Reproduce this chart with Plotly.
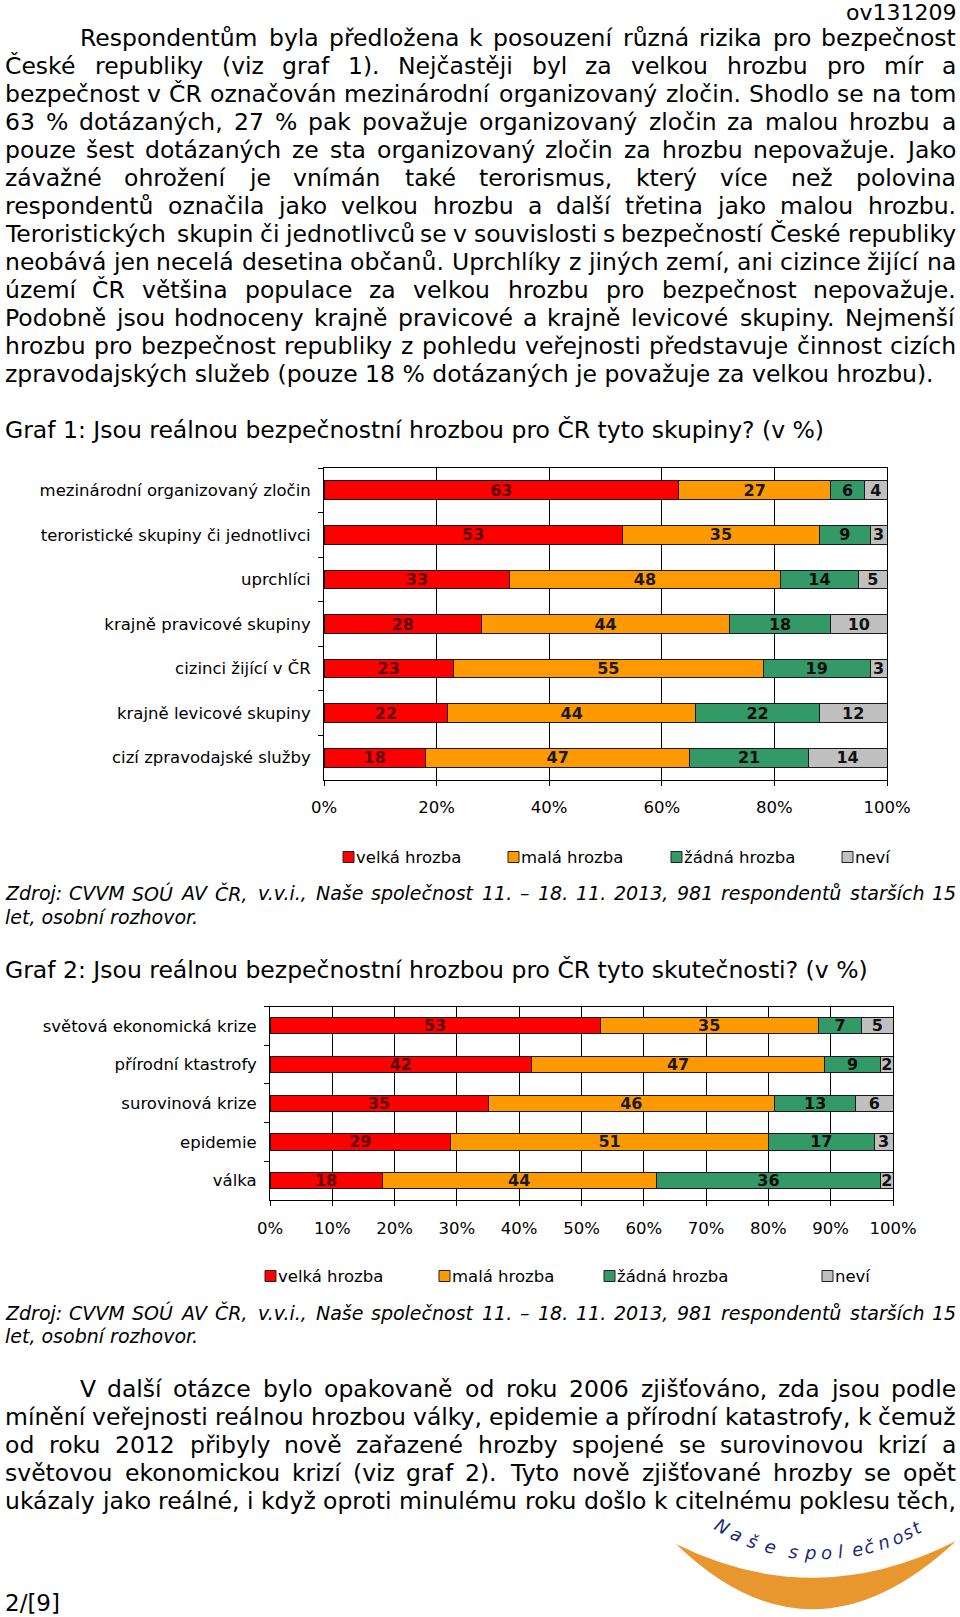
import math
import unicodedata
import plotly.graph_objects as go

W, H = 960, 1617

# ---------------- data ----------------
g1_categories = ["mezinárodní organizovaný zločin", "teroristické skupiny či jednotlivci", "uprchlíci",
                 "krajně pravicové skupiny", "cizinci žijící v ČR", "krajně levicové skupiny",
                 "cizí zpravodajské služby"]
g1_velka = [63, 53, 33, 28, 23, 22, 18]
g1_mala = [27, 35, 48, 44, 55, 44, 47]
g1_zadna = [6, 9, 14, 18, 19, 22, 21]
g1_nevi = [4, 3, 5, 10, 3, 12, 14]

g2_categories = ["světová ekonomická krize", "přírodní ktastrofy", "surovinová krize", "epidemie", "válka"]
g2_velka = [53, 42, 35, 29, 18]
g2_mala = [35, 47, 46, 51, 44]
g2_zadna = [7, 9, 13, 17, 36]
g2_nevi = [5, 2, 6, 3, 2]

series_names = ["velká hrozba", "malá hrozba", "žádná hrozba", "neví"]
g1_ticks = [0, 20, 40, 60, 80, 100]
g2_ticks = [0, 10, 20, 30, 40, 50, 60, 70, 80, 90, 100]

header_text = "ov131209"
page_text = "2/[9]"
title1 = "Graf 1: Jsou reálnou bezpečnostní hrozbou pro ČR tyto skupiny? (v %)"
title2 = "Graf 2: Jsou reálnou bezpečnostní hrozbou pro ČR tyto skutečnosti? (v %)"
source_lines = ["Zdroj: CVVM SOÚ AV ČR, v.v.i., Naše společnost 11. – 18. 11. 2013, 981 respondentů starších 15",
                "let, osobní rozhovor."]
para1 = [
    "Respondentům byla předložena k posouzení různá rizika pro bezpečnost",
    "České republiky (viz graf 1). Nejčastěji byl za velkou hrozbu pro mír a",
    "bezpečnost v ČR označován mezinárodní organizovaný zločin. Shodlo se na tom",
    "63 % dotázaných, 27 % pak považuje organizovaný zločin za malou hrozbu a",
    "pouze šest dotázaných ze sta organizovaný zločin za hrozbu nepovažuje. Jako",
    "závažné ohrožení je vnímán také terorismus, který více než polovina",
    "respondentů označila jako velkou hrozbu a další třetina jako malou hrozbu.",
    "Teroristických skupin či jednotlivců se v souvislosti s bezpečností České republiky",
    "neobává jen necelá desetina občanů. Uprchlíky z jiných zemí, ani cizince žijící na",
    "území ČR většina populace za velkou hrozbu pro bezpečnost nepovažuje.",
    "Podobně jsou hodnoceny krajně pravicové a krajně levicové skupiny. Nejmenší",
    "hrozbu pro bezpečnost republiky z pohledu veřejnosti představuje činnost cizích",
    "zpravodajských služeb (pouze 18 % dotázaných je považuje za velkou hrozbu).",
]
para2 = [
    "V další otázce bylo opakovaně od roku 2006 zjišťováno, zda jsou podle",
    "mínění veřejnosti reálnou hrozbou války, epidemie a přírodní katastrofy, k čemuž",
    "od roku 2012 přibyly nově zařazené hrozby spojené se surovinovou krizí a",
    "světovou ekonomickou krizí (viz graf 2). Tyto nově zjišťované hrozby se opět",
    "ukázaly jako reálné, i když oproti minulému roku došlo k citelnému poklesu těch,",
]
logo_letters = list("Naše spol ečnost")

# ---------------- styles ----------------
FONT = "DejaVu Sans"
series_colors = ["#FF0000", "#FF9900", "#339966", "#C0C0C0"]
label_colors = ["#5a0000", "#1a1a1a", "#0d0d0d", "#111111"]

# approximate DejaVu Sans advance widths (units of 1/2048 em)
VERA = {' ': 651, '!': 821, '"': 942, '%': 1946, '(': 799, ')': 799, ',': 651, '-': 739, '.': 651,
        '/': 690, ':': 690, ';': 690, '?': 1087, '[': 799, ']': 799, '–': 1024,
        'A': 1401, 'B': 1405, 'C': 1430, 'D': 1577, 'E': 1294, 'F': 1178, 'G': 1587, 'H': 1540,
        'I': 604, 'J': 604, 'K': 1343, 'L': 1141, 'M': 1767, 'N': 1532, 'O': 1612, 'P': 1235,
        'Q': 1612, 'R': 1423, 'S': 1300, 'T': 1251, 'U': 1499, 'V': 1401, 'W': 2025, 'X': 1403,
        'Y': 1251, 'Z': 1403,
        'a': 1255, 'b': 1300, 'c': 1126, 'd': 1300, 'e': 1260, 'f': 721, 'g': 1300, 'h': 1298,
        'i': 569, 'j': 569, 'k': 1186, 'l': 569, 'm': 1995, 'n': 1298, 'o': 1253, 'p': 1300,
        'q': 1300, 'r': 842, 's': 1067, 't': 803, 'u': 1298, 'v': 1212, 'w': 1675, 'x': 1212,
        'y': 1212, 'z': 1075}
for d in "0123456789":
    VERA[d] = 1303


def em(s):
    tot = 0
    for ch in s:
        base = unicodedata.normalize('NFD', ch)[0]
        tot += VERA.get(base, 1200)
    return tot / 2048.0


def X(px):
    return px / W


def Y(py):
    return 1 - py / H


annotations = []
shapes = []


def text(x, y, s, size, anchor='left', italic=False, bold=False, color='#000000', family=FONT, angle=0):
    annotations.append(dict(xref='paper', yref='paper', x=X(x), y=Y(y), text=s, showarrow=False,
                            xanchor=anchor, yanchor='middle', borderpad=0, borderwidth=0, textangle=angle,
                            font=dict(family=family, size=size, color=color,
                                      style='italic' if italic else 'normal',
                                      weight='bold' if bold else 'normal')))


def justify(s, x0, x1, y, size, italic=False):
    words = s.split(' ')
    widths = [em(w) * size for w in words]
    gap = (x1 - x0 - sum(widths)) / (len(words) - 1)
    x = x0
    n = len(words)
    for i, (wd, w) in enumerate(zip(words, widths)):
        if i == 0:
            text(x0, y, wd, size, 'left', italic)
        elif i == n - 1:
            text(x1, y, wd, size, 'right', italic)
        else:
            text(x + w / 2, y, wd, size, 'center', italic)
        x += w + gap


def max_size(line, x0, x1):
    words = line.split(' ')
    return (x1 - x0) / (sum(em(w) for w in words) + 0.24 * (len(words) - 1))


LEFT, RIGHT = 4.5, 956
just_lines = [(l, (80 if i == 0 else LEFT)) for i, l in enumerate(para1[:-1])] + \
             [(l, (80 if i == 0 else LEFT)) for i, l in enumerate(para2)]
fs_body = min([23.5] + [max_size(l, x0, RIGHT) for l, x0 in just_lines])
fs_src = min(19.0, max_size(source_lines[0], LEFT, RIGHT))

# header / page number
text(RIGHT, 12.5, header_text, 22, 'right')
text(LEFT, 1603, page_text, 23, 'left')

# paragraph 1
for i, line in enumerate(para1):
    y = 38.3 + 28.0 * i
    x0 = 80 if i == 0 else LEFT
    if i == len(para1) - 1:
        text(x0, y, line, fs_body, 'left')
    else:
        justify(line, x0, RIGHT, y, fs_body)

# titles
text(LEFT, 430, title1, fs_body, 'left')
text(LEFT, 970, title2, fs_body, 'left')

# sources
for yy in (893, 1312.5):
    justify(source_lines[0], LEFT, RIGHT, yy, fs_src, italic=True)
    text(LEFT, yy + 23.7, source_lines[1], fs_src, 'left', italic=True)

# paragraph 2
for i, line in enumerate(para2):
    y = 1388.8 + 28.0 * i
    x0 = 80 if i == 0 else LEFT
    justify(line, x0, RIGHT, y, fs_body)

# legends (drawn next to each chart)
LEG_FS = 16.5


def legend(xs, y):
    for k, x in enumerate(xs):
        shapes.append(dict(type='rect', xref='paper', yref='paper', x0=X(x), x1=X(x + 11),
                           y0=Y(y + 5.5), y1=Y(y - 5.5), fillcolor=series_colors[k],
                           line=dict(color='#222222', width=1)))
        text(x + 13, y, series_names[k], LEG_FS, 'left')


legend([343, 508, 671, 842], 857)
legend([265, 439, 604, 822], 1276)

# ---------------- bars ----------------
fig = go.Figure()
g1_series = [g1_velka, g1_mala, g1_zadna, g1_nevi]
g2_series = [g2_velka, g2_mala, g2_zadna, g2_nevi]
for cats, series, xa, ya in ((g1_categories, g1_series, 'x', 'y'), (g2_categories, g2_series, 'x2', 'y2')):
    for k in range(4):
        fig.add_trace(go.Bar(
            y=cats, x=series[k], orientation='h', name=series_names[k],
            marker=dict(color=series_colors[k], line=dict(color='#1a1a1a', width=1)),
            text=[str(v) for v in series[k]], textposition='inside', insidetextanchor='middle',
            textangle=0, constraintext='none',
            textfont=dict(family=FONT, size=16, color=label_colors[k], weight='bold'),
            xaxis=xa, yaxis=ya, showlegend=False, hoverinfo='skip'))


# ---------------- logo ----------------
def P(x, y):
    return f"{X(x):.5f},{Y(y):.5f}"


swoosh = (f"M{P(676, 1544)} Q{P(812, 1676)} {P(956, 1541)} "
          f"Q{P(815, 1613)} {P(676, 1544)} Z")
shapes.append(dict(type='path', xref='paper', yref='paper', path=swoosh,
                   fillcolor='#E8962E', line=dict(width=0)))
angles = [-29.7, -24.8, -19.8, -14.6, None, -7.8, -2.9, 2.0, 5.8, None, 10.8, 14.6, 18.6, 22.9, 26.1, 29.3]
for ch, a in zip(logo_letters, angles):
    if a is None or ch == ' ':
        continue
    r = 198
    cx = 820 + r * math.sin(math.radians(a))
    cy = 1355 + r * math.cos(math.radians(a))
    text(cx, cy, ch, 18, 'center', italic=True, color='#1B2A78', angle=-a)

axis_common = dict(showline=True, linecolor='#000000', linewidth=1, mirror=True, automargin=False,
                   ticks='outside', tickcolor='#000000', ticklen=5, zeroline=False, fixedrange=True)

fig.update_layout(
    width=W, height=H, margin=dict(l=0, r=0, t=0, b=0, pad=0, autoexpand=False),
    paper_bgcolor='white', plot_bgcolor='white',
    font=dict(family=FONT, size=16.5, color='#000000'),
    barmode='stack', bargap=0.58, showlegend=False,
    xaxis=dict(domain=[X(324), X(887)], anchor='y', range=[0, 100], tickvals=g1_ticks,
               ticktext=[f"{t}%" for t in g1_ticks], showgrid=True, gridcolor='#000000', gridwidth=1,
               tickfont=dict(size=16.5), ticklabelstandoff=7, **axis_common),
    yaxis=dict(domain=[Y(780), Y(468)], anchor='x', autorange='reversed', type='category',
               tickson='boundaries', showgrid=False, tickfont=dict(size=16.5), ticklabelstandoff=9,
               **axis_common),
    xaxis2=dict(domain=[X(270), X(893)], anchor='y2', range=[0, 100], tickvals=g2_ticks,
                ticktext=[f"{t}%" for t in g2_ticks], showgrid=True, gridcolor='#000000', gridwidth=1,
                tickfont=dict(size=16.5), ticklabelstandoff=8, **axis_common),
    yaxis2=dict(domain=[Y(1200), Y(1006.5)], anchor='x2', autorange='reversed', type='category',
                tickson='boundaries', showgrid=False, tickfont=dict(size=16.5), ticklabelstandoff=9,
                **axis_common),
    annotations=annotations, shapes=shapes,
)

fig.write_html("out.html")
